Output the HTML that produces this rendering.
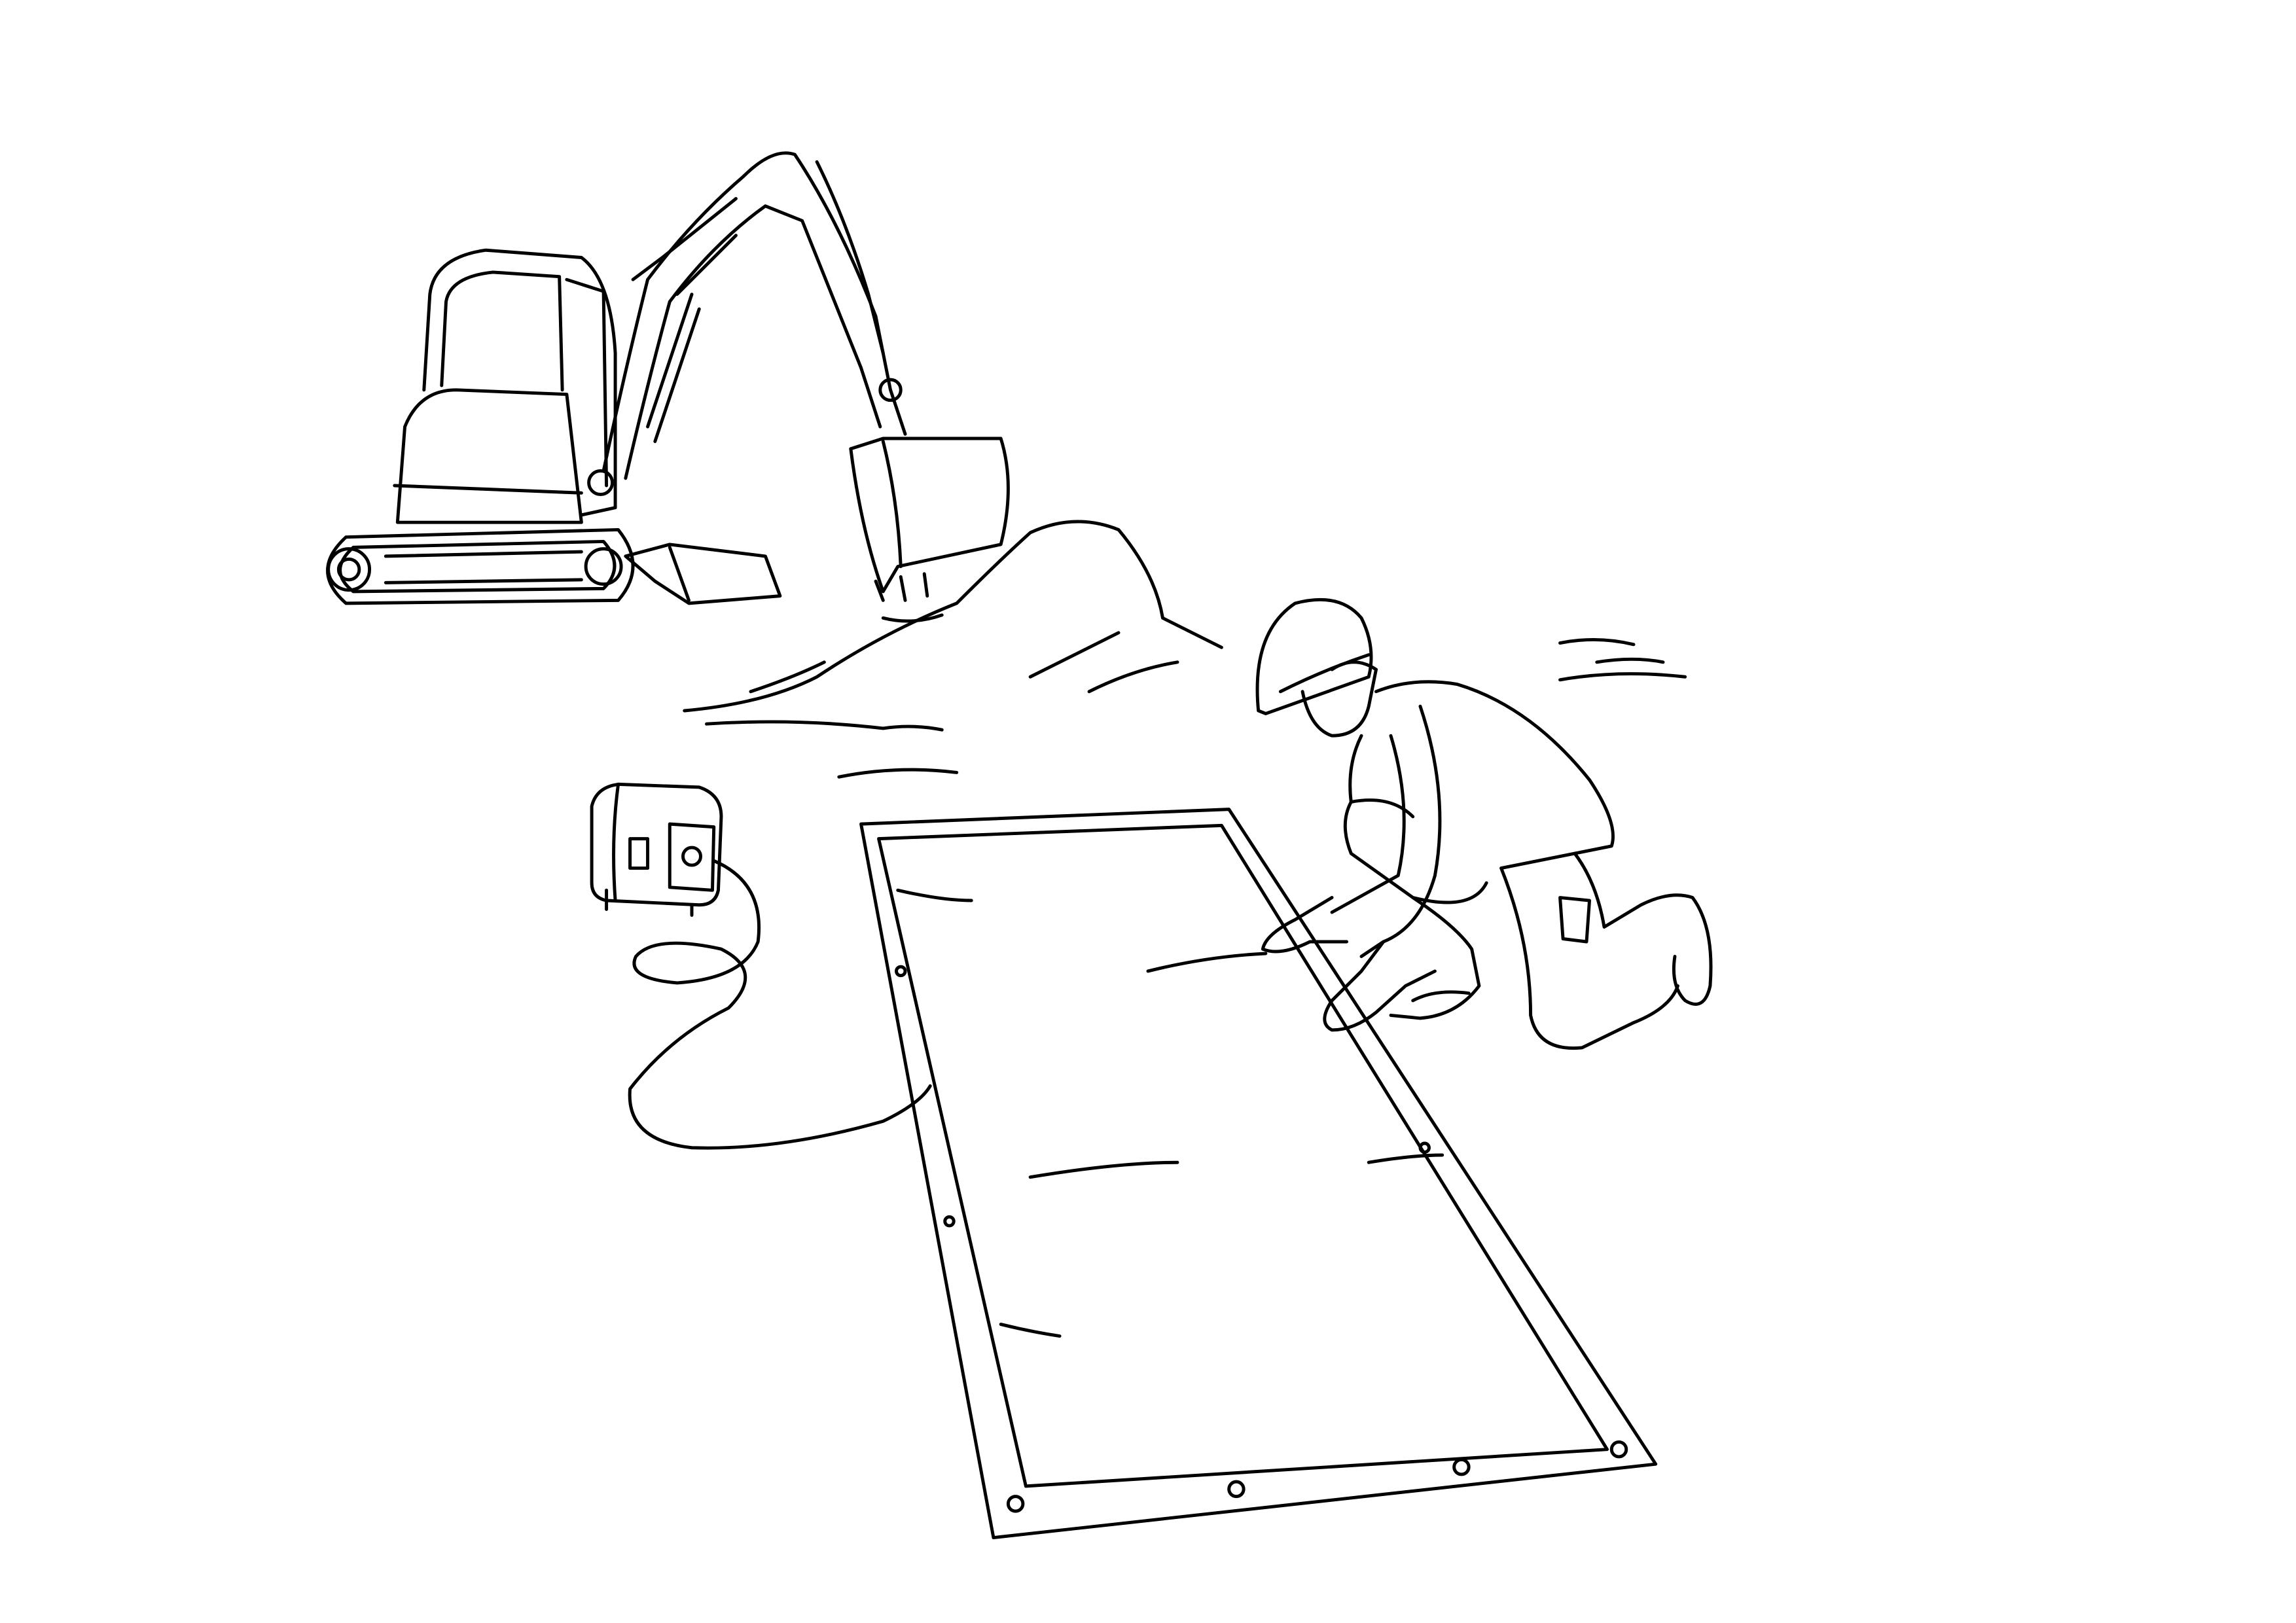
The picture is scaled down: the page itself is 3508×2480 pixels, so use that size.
<!DOCTYPE html>
<html><head><meta charset="utf-8"><style>
html,body{margin:0;padding:0;background:#fff;}
svg{display:block;}
</style></head><body>
<svg width="3508" height="2480" viewBox="0 0 1560 1103" xmlns="http://www.w3.org/2000/svg" fill="none" stroke="#000" stroke-width="2.2" stroke-linejoin="round" stroke-linecap="round">
<rect x="0" y="0" width="1560" height="1103" fill="#fff" stroke="none"/>
<!-- Excavator tracks -->
<path d="M235,365 L420,360 Q440,385 420,408 L235,410 Q210,388 235,365Z"/>
<path d="M240,372 L410,368 Q425,385 410,400 L240,402 Q222,388 240,372Z"/>
<circle cx="237" cy="387" r="14"/><circle cx="237" cy="387" r="7"/>
<circle cx="410" cy="385" r="12"/>
<path d="M262,378 L395,375 M262,396 L395,394"/>
<!-- blade -->
<path d="M425,378 L455,370 L520,378 L530,405 L468,410 L445,395 Z"/>
<path d="M455,372 L468,408"/>
<!-- body / engine cover -->
<path d="M270,355 L275,290 Q285,265 310,265 L385,268 L395,355 Z"/>
<path d="M268,330 L395,335"/>
<!-- cab -->
<path d="M288,265 L292,200 Q295,175 330,170 L395,175 Q415,190 418,240 L418,345 L395,350"/>
<path d="M300,262 L303,205 Q306,188 335,185 L380,188 L382,265"/>
<path d="M385,190 L410,198 L412,330"/>
<!-- arm -->
<path d="M410,320 Q425,250 440,190 Q470,150 505,120 Q525,100 540,105 Q570,150 595,215 L605,265 L615,295"/>
<path d="M425,325 Q440,260 455,205 Q485,165 520,140 L545,150 Q565,200 585,250 L598,290"/>
<path d="M430,190 L450,175 L500,135 M460,200 L500,160"/>
<path d="M555,110 Q575,150 590,200 L600,240"/>
<path d="M440,290 L470,200 M445,300 L475,210"/>
<circle cx="408" cy="328" r="8"/><circle cx="605" cy="265" r="7"/>
<!-- bucket -->
<path d="M578,305 L600,298 L680,298 Q690,330 680,370 L610,385 L600,402 Q585,360 578,305Z"/>
<path d="M600,300 Q610,340 612,385"/>
<path d="M595,395 L600,408 M612,392 L615,408 M628,390 L630,405"/>
<!-- pile -->
<path d="M465,483 Q520,478 555,460 Q600,430 650,410 Q680,380 700,362 Q730,348 760,360 Q785,390 790,420 Q810,430 830,440"/>
<path d="M510,470 Q540,460 560,450 M600,420 Q620,425 640,418 M700,460 Q740,440 760,430 M740,470 Q770,455 800,450"/>
<path d="M480,492 Q540,488 600,495 Q620,492 640,496 M570,528 Q610,520 650,525"/>
<!-- wave lines right -->
<path d="M1060,437 Q1085,432 1110,438 M1060,462 Q1100,455 1145,460 M1085,450 Q1110,446 1130,450"/>
<!-- generator -->
<path d="M402,548 Q405,535 420,533 L475,535 Q490,540 490,555 L488,605 Q486,615 475,615 L412,612 Q402,610 402,600 Z"/>
<path d="M420,533 Q415,570 418,612"/>
<path d="M455,560 L485,562 L484,605 L455,603 Z"/>
<circle cx="470" cy="582" r="6"/>
<path d="M428,570 L440,570 L440,590 L428,590 Z"/>
<path d="M412,605 L412,618 M470,615 L470,622"/>
<!-- cable -->
<path d="M485,585 Q520,600 515,640 Q505,665 460,668 Q425,665 432,650 Q445,635 490,645 Q520,660 495,685 Q455,705 428,740 Q425,775 470,780 Q530,782 600,762 Q625,750 632,738"/>
<!-- mat -->
<path d="M585,560 L835,550 L1125,995 L675,1045 Z"/>
<path d="M597,570 L830,561 L1092,985 L697,1010 Z"/>
<path d="M780,660 Q820,650 860,648 M700,800 Q760,790 800,790 M680,900 Q700,905 720,908 M610,605 Q640,612 660,612 M930,790 Q960,785 980,785"/>
<circle cx="690" cy="1022" r="5"/><circle cx="840" cy="1012" r="5"/><circle cx="993" cy="997" r="5"/><circle cx="1100" cy="985" r="5"/>
<circle cx="612" cy="660" r="3"/><circle cx="645" cy="830" r="3"/><circle cx="968" cy="780" r="3"/>
<!-- worker helmet & head -->
<path d="M855,483 Q850,430 880,410 Q910,402 925,420 Q935,440 930,460 L860,485 Z"/>
<path d="M870,470 Q900,455 930,445"/>
<path d="M885,470 Q890,495 905,500 Q925,500 930,480 L935,455"/>
<path d="M905,455 Q920,445 935,455"/>
<!-- torso -->
<path d="M935,470 Q960,460 990,465 Q1040,480 1080,530 Q1100,560 1095,575 L1070,580 L1020,590"/>
<path d="M925,500 Q915,520 918,545 Q945,540 960,555"/>
<path d="M918,545 Q910,560 918,580 L960,610 Q1000,620 1010,600"/>
<!-- arms -->
<path d="M965,480 Q985,540 975,595 Q965,630 940,640 L925,650"/>
<path d="M945,500 Q960,550 950,595 L905,620"/>
<path d="M905,610 L880,625 Q860,635 858,645 Q870,650 890,640 L915,640"/>
<path d="M940,640 L925,660 L905,680 Q895,695 905,700 Q920,700 935,688 L955,670 L975,660"/>
<!-- leg kneeling -->
<path d="M1020,590 Q1040,640 1040,690 Q1045,715 1075,712 L1110,695 Q1135,685 1140,670"/>
<path d="M1070,580 Q1085,600 1090,630 L1115,615 Q1135,605 1150,610 Q1165,630 1162,670 Q1158,688 1145,680 Q1135,670 1138,650"/>
<path d="M1060,610 L1080,612 L1078,640 L1062,638 Z"/>
<!-- front leg / boot -->
<path d="M960,610 Q990,630 1000,645 L1005,670 Q990,690 965,692 L945,690"/>
<path d="M960,680 Q975,672 998,675"/>
<circle cx="1080" cy="380" r="0" />
</svg>
</body></html>
